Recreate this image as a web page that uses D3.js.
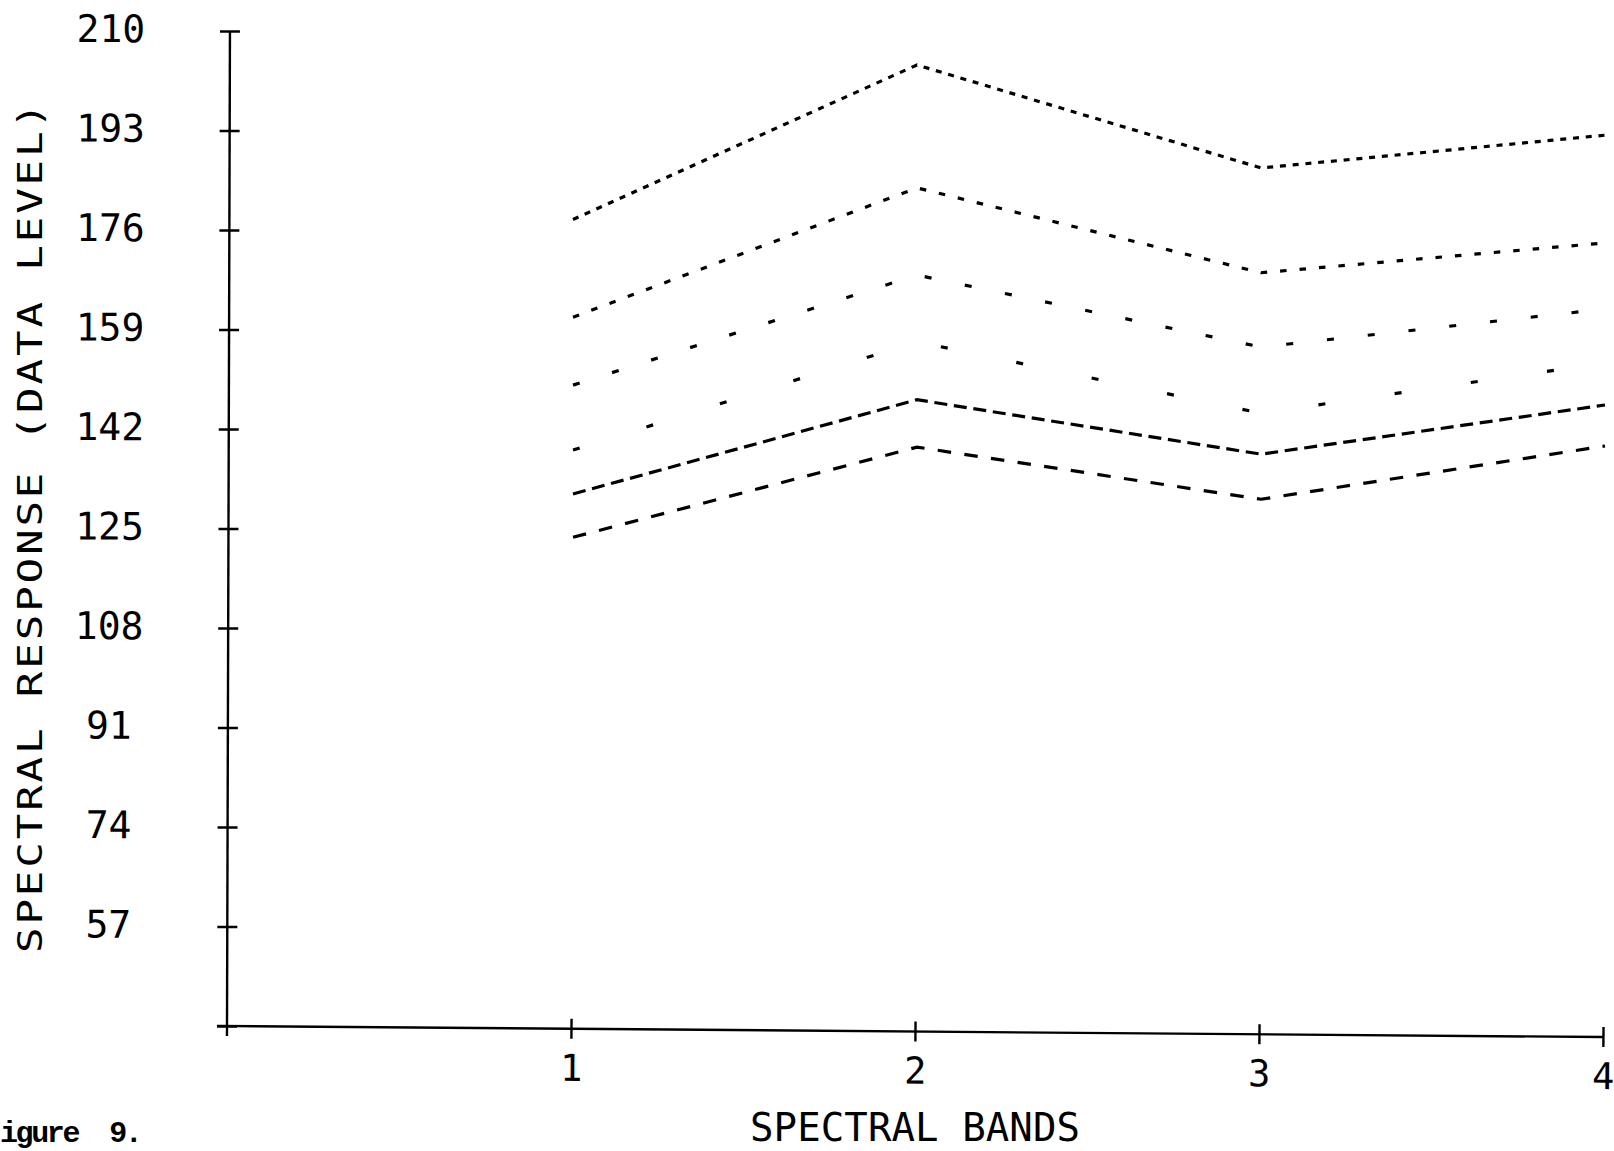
<!DOCTYPE html>
<html><head><meta charset="utf-8">
<script src="https://cdn.jsdelivr.net/npm/d3@7"></script>
<style>html,body{margin:0;padding:0;background:#fff;} svg{display:block}</style>
</head><body><svg id="chart" width="1614" height="1151"></svg>
<script>
// ---- data ----
const bands = [1, 2, 3, 4];
const bandLabels = ["1", "2", "3", "4"];
const yTickValues = [40, 57, 74, 91, 108, 125, 142, 159, 176, 193, 210];
const yTickLabels = ["", "57", "74", "91", "108", "125", "142", "159", "176", "193", "210"];
const series1 = [177.8, 204.2, 186.6, 192.2];
const series2 = [161.1, 183.2, 168.7, 173.8];
const series3 = [149.5, 168.3, 156.0, 162.5];
const series4 = [138.4, 156.9, 144.7, 153.3];
const series5 = [130.9, 147.0, 137.7, 146.1];
const series6 = [123.5, 138.9, 130.0, 139.1];
const allSeries = [series1, series2, series3, series4, series5, series6];
const xTitle = "SPECTRAL BANDS";
const yTitle = "SPECTRAL RESPONSE  (DATA LEVEL)";
const caption = "igure  9.";

// ---- styles ----
const dashStyles = ["6,6.8", "6.5,13", "7,34", "7,70", "13,6.7", "13.5,13.4"];
const plotFont = "'DejaVu Sans Mono', monospace";

const svg = d3.select("#chart");
const x = d3.scaleLinear().domain([0, 4]).range([227, 1603]);
const y = d3.scaleLinear().domain([40, 210]).range([1026, 31]);

// ---- y axis ----
const yAxis = d3.axisLeft(y).tickValues(yTickValues).tickSizeInner(10).tickSizeOuter(0)
  .tickFormat((d, i) => yTickLabels[i]);
const gy = svg.append("g")
  .attr("transform", `translate(${x(0)},0) rotate(0.17,0,${y(40)})`)
  .call(yAxis);
gy.select(".domain").remove();
gy.append("line").attr("x1", 0).attr("x2", 0).attr("y1", y(210)).attr("y2", y(40) + 10)
  .attr("stroke", "#000").attr("stroke-width", 2.4);
gy.selectAll(".tick line").attr("x1", 10).attr("stroke", "#000").attr("stroke-width", 2.4);
gy.selectAll(".tick text")
  .attr("x", -119).attr("y", 11).attr("dy", null)
  .attr("text-anchor", "middle")
  .style("font-family", plotFont).style("font-size", "38px").attr("fill", "#000");

// ---- x axis ----
const xAxis = d3.axisBottom(x).tickValues(bands).tickSizeInner(10).tickSizeOuter(0)
  .tickFormat((d, i) => bandLabels[i]);
const gx = svg.append("g")
  .attr("transform", `translate(0,${y(40)}) rotate(0.46,${x(0)},0)`)
  .call(xAxis);
gx.select(".domain").remove();
gx.append("line").attr("x1", x(0) - 10).attr("x2", x(4)).attr("y1", 0).attr("y2", 0)
  .attr("stroke", "#000").attr("stroke-width", 2.4);
gx.selectAll(".tick line").attr("y1", -10).attr("stroke", "#000").attr("stroke-width", 2.4);
gx.selectAll(".tick text")
  .attr("y", 52).attr("dy", null)
  .style("font-family", plotFont).style("font-size", "37px").attr("fill", "#000");

// ---- titles ----
svg.append("text")
  .attr("x", x(2)).attr("y", 1141)
  .attr("text-anchor", "middle")
  .attr("textLength", 330).attr("lengthAdjust", "spacing")
  .style("font-family", plotFont).style("font-size", "39px").attr("fill", "#000")
  .text(xTitle);

svg.append("text")
  .attr("transform", "translate(42,528) rotate(-90) scale(1.25,1)")
  .attr("text-anchor", "middle")
  .attr("textLength", 680).attr("lengthAdjust", "spacing")
  .style("font-family", plotFont).style("font-size", "34px").attr("fill", "#000")
  .text(yTitle);

svg.append("text")
  .attr("x", 0).attr("y", 1142)
  .attr("xml:space", "preserve")
  .style("white-space", "pre")
  .style("font-family", "'Liberation Mono', monospace").style("font-size", "30px")
  .style("font-weight", "bold").style("letter-spacing", "-2.4px").attr("fill", "#000")
  .text(caption);

// ---- lines ----
const line = d3.line().x((d, i) => x(bands[i]) + 2).y(d => y(d));
svg.append("g").selectAll("path").data(allSeries).join("path")
  .attr("d", d => line(d))
  .attr("fill", "none").attr("stroke", "#000").attr("stroke-width", 3.2)
  .attr("stroke-dasharray", (d, i) => dashStyles[i]);
</script>
</body></html>
